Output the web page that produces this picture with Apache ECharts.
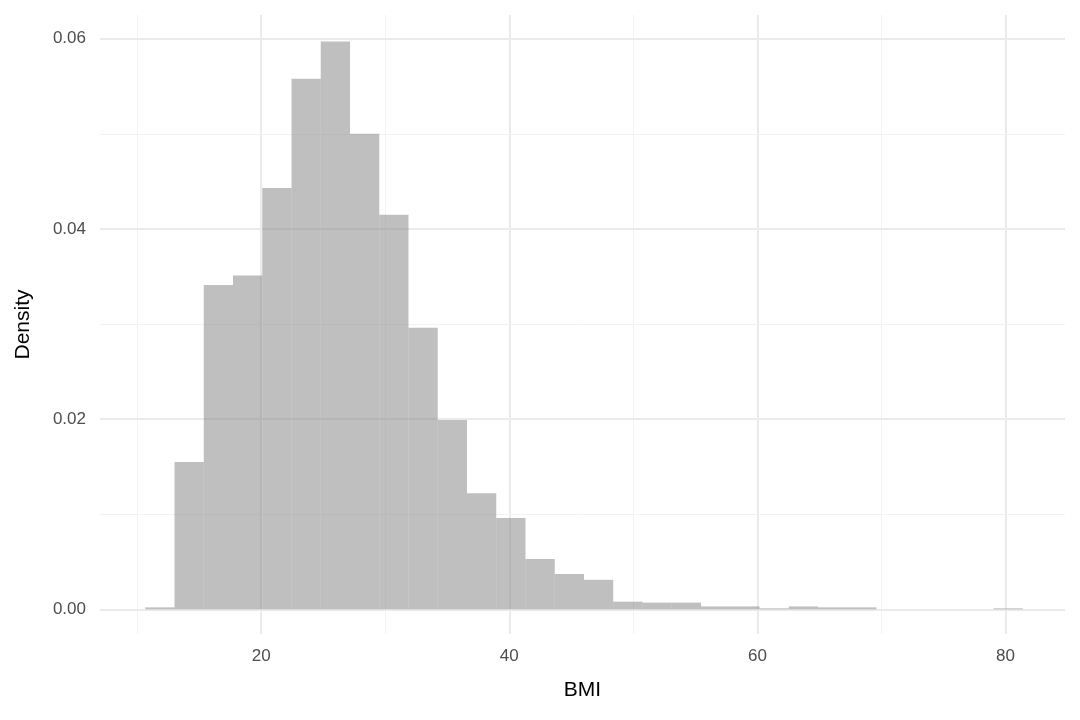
<!DOCTYPE html><html><head><meta charset="utf-8">
<script src="https://cdn.jsdelivr.net/npm/echarts@6/dist/echarts.min.js"></script>
<style>html,body{margin:0;padding:0}#c{width:1080px;height:720px}</style></head><body><div id="c"></div>
<script>
const binStart = 10.65;
const binWidth = 2.358;
const densities = [0.0002,0.0155,0.0341,0.0351,0.0443,0.0558,0.0597,0.0500,0.0415,0.0296,0.0199,0.0122,0.0096,0.0053,0.0037,0.0031,0.0008,0.0007,0.0007,0.0003,0.0003,0.0001,0.0003,0.0002,0.0002,0,0,0,0,0.0001];
const xTicks = [20,40,60,80];
const xMinor = [10,30,50,70];
const yTicks = [0,0.02,0.04,0.06];
const yMinor = [0.01,0.03,0.05];

const bars = densities.map((d,i)=>[binStart+i*binWidth, binStart+(i+1)*binWidth, d]);
const font = 'Liberation Sans, Arial, sans-serif';
const lines = [];
xTicks.forEach(v=>lines.push({xAxis:v,lineStyle:{color:'#ebebeb',width:2,type:'solid'}}));
xMinor.forEach(v=>lines.push({xAxis:v,lineStyle:{color:'#f2f2f2',width:1,type:'solid'}}));
yTicks.forEach(v=>lines.push({yAxis:v,lineStyle:{color:'#ebebeb',width:2,type:'solid'}}));
yMinor.forEach(v=>lines.push({yAxis:v,lineStyle:{color:'#f2f2f2',width:1,type:'solid'}}));

const chart = echarts.init(document.getElementById('c'));
chart.setOption({
  animation:false,
  grid:{left:100,right:15,top:15,bottom:86},
  xAxis:{type:'value',min:7,max:84.8,name:'BMI',nameLocation:'middle',nameGap:46,
    nameTextStyle:{fontFamily:font,fontSize:21,color:'#000'},
    axisLine:{show:false},axisTick:{show:false},splitLine:{show:false},
    axisLabel:{customValues:xTicks,fontFamily:font,fontSize:17,color:'#4d4d4d',margin:14}},
  yAxis:{type:'value',min:-0.0026,max:0.0625,name:'Density',nameLocation:'middle',nameGap:66,
    nameTextStyle:{fontFamily:font,fontSize:21,color:'#000'},
    axisLine:{show:false},axisTick:{show:false},splitLine:{show:false},
    axisLabel:{customValues:yTicks,fontFamily:font,fontSize:17,color:'#4d4d4d',margin:14,
      formatter:v=>v.toFixed(2)}},
  series:[
    {type:'line',data:[],silent:true,z:1,markLine:{silent:true,symbol:'none',label:{show:false},data:lines,animation:false,z:1}},
    {type:'custom',z:5,data:bars,encode:{x:[0,1],y:2},renderItem:(p,api)=>{
      const a=api.coord([api.value(0),api.value(2)]);
      const b=api.coord([api.value(1),0]);
      return {type:'rect',shape:{x:a[0],y:a[1],width:b[0]-a[0],height:b[1]-a[1]},
        style:{fill:'rgba(127,127,127,0.5)'}};
    }}
  ]
});
</script></body></html>
